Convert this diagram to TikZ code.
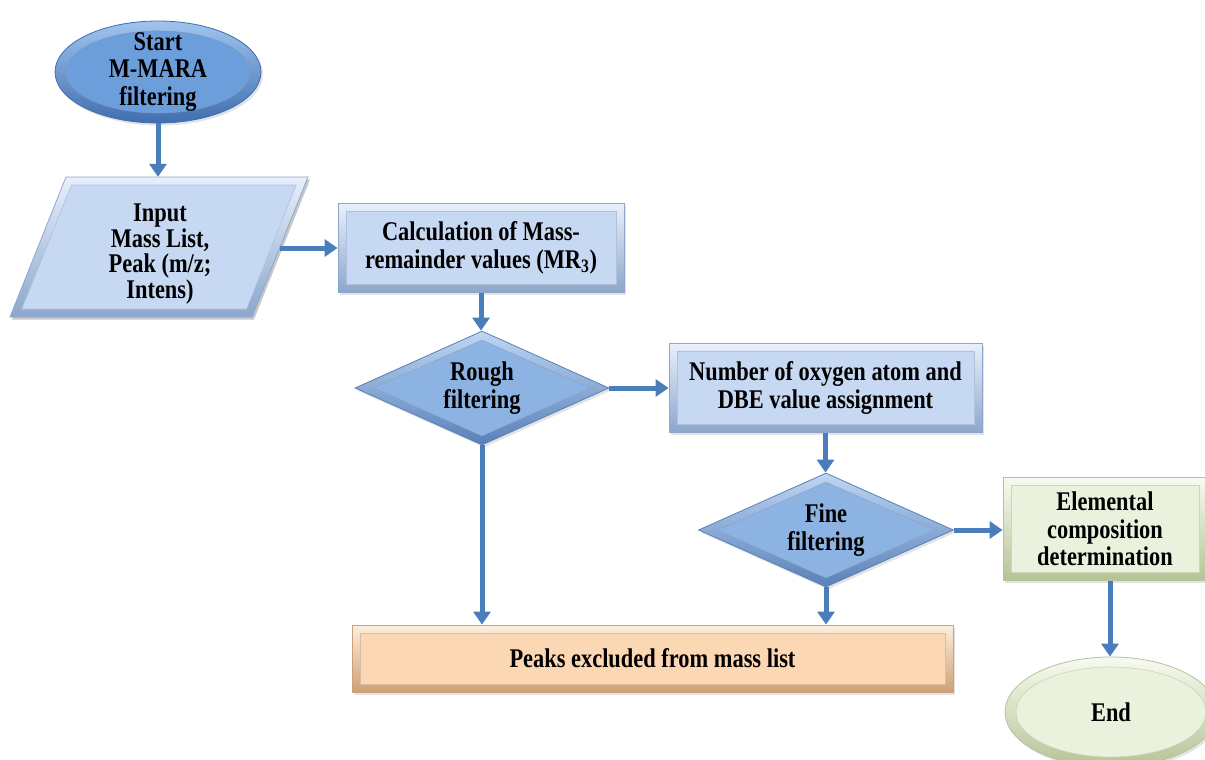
\documentclass[tikz,border=0pt]{standalone}
\usepackage{fontspec}
\setmainfont{Liberation Serif}[FakeStretch=0.83]
\usetikzlibrary{shapes.geometric,arrows.meta,calc,shadows}
\definecolor{arr}{RGB}{74,126,187}
% start ellipse (medium blue)
\definecolor{sbT}{RGB}{160,196,238}
\definecolor{sbB}{RGB}{64,110,175}
\definecolor{sbM}{RGB}{108,158,220}
% light blue boxes
\definecolor{lbT}{RGB}{232,240,251}
\definecolor{lbB}{RGB}{140,166,204}
\definecolor{lbM}{RGB}{199,217,242}
% diamonds
\definecolor{dmT}{RGB}{190,214,242}
\definecolor{dmB}{RGB}{88,128,185}
\definecolor{dmM}{RGB}{141,179,226}
% green
\definecolor{gnT}{RGB}{248,250,240}
\definecolor{gnB}{RGB}{180,196,150}
\definecolor{gnM}{RGB}{234,241,220}
% orange
\definecolor{orT}{RGB}{254,238,222}
\definecolor{orB}{RGB}{205,160,118}
\definecolor{orM}{RGB}{252,215,180}
\begin{document}
\begin{tikzpicture}[x=1pt,y=-1pt,
  txt/.style={font=\bfseries\fontsize{27}{28}\selectfont, align=center, text=black},
  conn/.style={draw=arr, line width=5pt, -{Triangle[width=17pt,length=13pt]}},
  shad/.style={drop shadow={opacity=0.22, shadow xshift=2pt, shadow yshift=-2.5pt}},
  bevelrect/.style n args={3}{rectangle, txt, inner sep=0pt, draw=#3, line width=0.8pt,
    top color=#1, bottom color=#3, shad,
    path picture={\draw[fill=#2, draw=#3!70!white, line width=0.6pt]
      ([shift={(8pt,-8pt)}]path picture bounding box.north west) rectangle
      ([shift={(-8pt,8pt)}]path picture bounding box.south east);}},
  bevelkite/.style n args={3}{diamond, aspect=2.23, txt, inner sep=0pt, draw=#3, line width=0.8pt,
    top color=#1, bottom color=#3, shad,
    path picture={\draw[fill=#2, draw=#3!70!white, line width=0.6pt]
      ([yshift=-9pt]path picture bounding box.north) --
      ([xshift=-19pt]path picture bounding box.east) --
      ([yshift=9pt]path picture bounding box.south) --
      ([xshift=19pt]path picture bounding box.west) -- cycle;}},
  bevelell/.style n args={3}{ellipse, txt, inner xsep=0pt, inner ysep=-8pt, draw=#3, line width=0.8pt,
    top color=#1, bottom color=#3, shad,
    path picture={\draw[fill=#2, draw=#3!70!white, line width=0.6pt]
      let \p1=(path picture bounding box.north east), \p2=(path picture bounding box.center) in
      (\p2) ellipse [x radius=\x1-\x2-11pt, y radius=\y1-\y2-10pt];}},
]
\useasboundingbox (0,0) rectangle (1205,760);
\fill[white] (0,0) rectangle (1205,760);

% input parallelogram
\fill[black, opacity=0.22] (68,179.5) -- (310,179.5) -- (254,319.5) -- (12,319.5) -- cycle;
\path[draw=lbB, line width=0.8pt, top color=lbT, bottom color=lbB]
  (66,177) -- (308,177) -- (252,317) -- (10,317) -- cycle;
\draw[fill=lbM, draw=lbB!70!white, line width=0.6pt]
  (71.4,185) -- (296.2,185) -- (246.6,309) -- (21.8,309) -- cycle;
\node[txt, font=\bfseries\fontsize{27}{25.5}\selectfont, minimum width=180pt, minimum height=154pt, inner sep=0pt]
  (inp) at (160,254) {Input\\Mass List,\\Peak (m/z;\\Intens)};
\coordinate (inpR) at (280,248);

\node[bevelell={sbT}{sbM}{sbB}, font=\bfseries\fontsize{27}{27.5}\selectfont, minimum width=206pt, minimum height=102pt]
  (start) at (158,72) {Start\\M-MARA\\filtering};

\node[bevelrect={lbT}{lbM}{lbB}, minimum width=286pt, minimum height=89pt]
  (calc) at (481,248) {Calculation of Mass-\\remainder values (MR\textsubscript{3})};

\node[bevelkite={dmT}{dmM}{dmB}, minimum width=254pt, minimum height=114pt]
  (rough) at (482,388) {Rough\\filtering};

\node[bevelrect={lbT}{lbM}{lbB}, minimum width=313pt, minimum height=89pt]
  (num) at (825.5,388) {Number of oxygen atom and\\DBE value assignment};

\node[bevelkite={dmT}{dmM}{dmB}, minimum width=255pt, minimum height=114pt]
  (fine) at (826,530) {Fine\\filtering};

\node[bevelrect={gnT}{gnM}{gnB}, font=\bfseries\fontsize{27}{27.5}\selectfont, minimum width=204pt, minimum height=103pt]
  (elem) at (1105,529) {Elemental\\composition\\determination};

\node[bevelell={gnT}{gnM}{gnB}, minimum width=212pt, minimum height=110pt]
  (end) at (1111,712) {End};

\node[bevelrect={orT}{orM}{orB}, minimum width=601pt, minimum height=67pt]
  (peaks) at (652.5,658.5) {Peaks excluded from mass list};

% connectors
\draw[conn] (start.south) -- (start.south |- inp.north);
\draw[conn] (inpR) -- (calc.west |- inpR);
\draw[conn] (calc.south) -- (calc.south |- rough.north);
\draw[conn] (rough.east) -- (rough.east -| num.west);
\draw[conn] (num.south) -- (num.south |- fine.north);
\draw[conn] (fine.east) -- (fine.east -| elem.west);
\draw[conn] ([xshift=5pt]elem.south) -- ([xshift=5pt]elem.south |- end.north);
\draw[conn] (rough.south) -- (rough.south |- peaks.north);
\draw[conn] (fine.south) -- (fine.south |- peaks.north);
\end{tikzpicture}
\end{document}
